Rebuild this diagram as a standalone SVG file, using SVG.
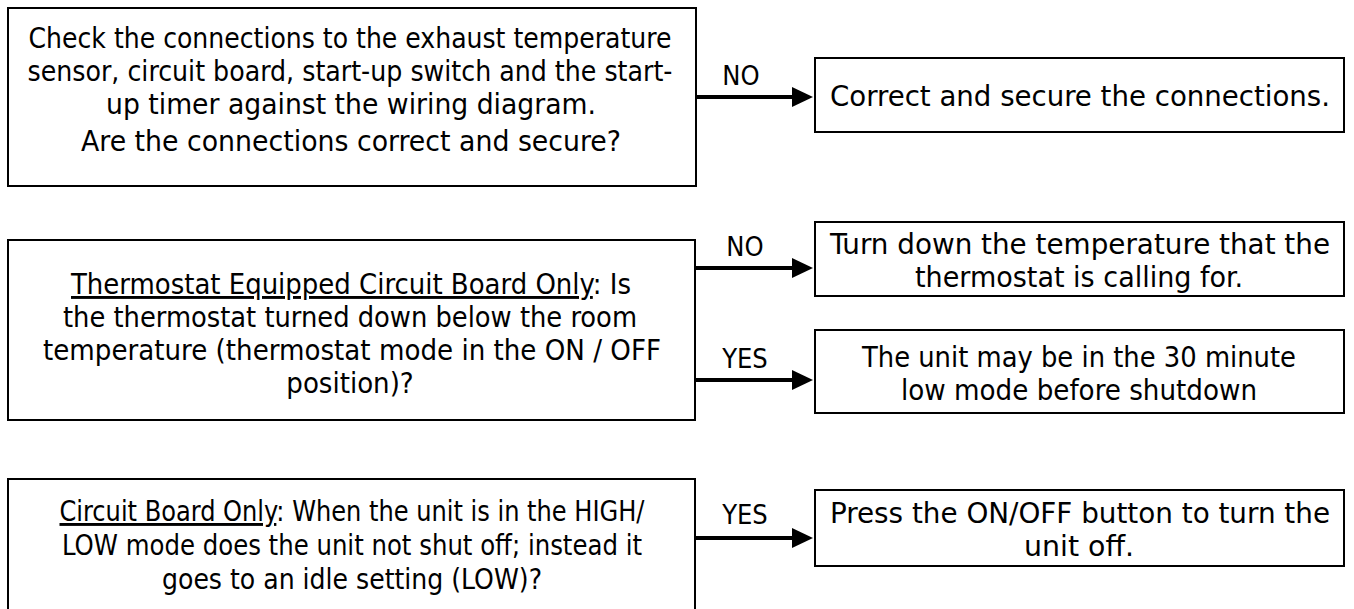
<svg xmlns="http://www.w3.org/2000/svg" width="1354" height="609" viewBox="0 0 1354 609">
<style>
.box{fill:#fff;stroke:#000;stroke-width:2}
.t{font-family:"DejaVu Sans Condensed","DejaVu Sans",sans-serif;font-stretch:condensed;font-size:29px;fill:#000;text-anchor:middle}
.l{font-family:"DejaVu Sans Condensed","DejaVu Sans",sans-serif;font-stretch:condensed;font-size:27px;fill:#000;text-anchor:middle}
.u{text-decoration:underline}
.c{stroke:#000;stroke-width:4;fill:none}
.h{fill:#000}
</style>
<rect width="1354" height="609" fill="#fff"/>
<g id="q1">
<rect class="box" x="8" y="8" width="688" height="178"/>
<text class="t" x="350" y="48" textLength="643" lengthAdjust="spacingAndGlyphs">Check the connections to the exhaust temperature</text>
<text class="t" x="350" y="81" textLength="645" lengthAdjust="spacingAndGlyphs">sensor, circuit board, start-up switch and the start-</text>
<text class="t" x="351" y="114" textLength="490" lengthAdjust="spacingAndGlyphs">up timer against the wiring diagram.</text>
<text class="t" x="351" y="151" textLength="540" lengthAdjust="spacingAndGlyphs">Are the connections correct and secure?</text>
</g>
<g id="a1">
<rect class="box" x="815" y="58" width="529" height="74"/>
<text class="t" x="1080" y="106" textLength="500" lengthAdjust="spacingAndGlyphs">Correct and secure the connections.</text>
</g>
<g id="q2">
<rect class="box" x="8" y="240" width="687" height="180"/>
<text class="t" x="351" y="294" textLength="560" lengthAdjust="spacingAndGlyphs"><tspan class="u">Thermostat Equipped Circuit Board Only</tspan>: Is</text>
<text class="t" x="350" y="327" textLength="574" lengthAdjust="spacingAndGlyphs">the thermostat turned down below the room</text>
<text class="t" x="352" y="360" textLength="618" lengthAdjust="spacingAndGlyphs">temperature (thermostat mode in the ON / OFF</text>
<text class="t" x="350" y="393">position)?</text>
</g>
<g id="a2">
<rect class="box" x="815" y="222" width="529" height="74"/>
<text class="t" x="1080" y="254" textLength="500" lengthAdjust="spacingAndGlyphs">Turn down the temperature that the</text>
<text class="t" x="1079" y="287" textLength="328" lengthAdjust="spacingAndGlyphs">thermostat is calling for.</text>
</g>
<g id="a3">
<rect class="box" x="815" y="330" width="529" height="83"/>
<text class="t" x="1079" y="367" textLength="434" lengthAdjust="spacingAndGlyphs">The unit may be in the 30 minute</text>
<text class="t" x="1079" y="400" textLength="356" lengthAdjust="spacingAndGlyphs">low mode before shutdown</text>
</g>
<g id="q3">
<rect class="box" x="8" y="479" width="687" height="140"/>
<text class="t" x="352" y="521" textLength="585" lengthAdjust="spacingAndGlyphs"><tspan class="u">Circuit Board Only</tspan>: When the unit is in the HIGH/</text>
<text class="t" x="352" y="555" textLength="580" lengthAdjust="spacingAndGlyphs">LOW mode does the unit not shut off; instead it</text>
<text class="t" x="352" y="589" textLength="380" lengthAdjust="spacingAndGlyphs">goes to an idle setting (LOW)?</text>
</g>
<g id="a4">
<rect class="box" x="815" y="490" width="529" height="76"/>
<text class="t" x="1080" y="523" textLength="500" lengthAdjust="spacingAndGlyphs">Press the ON/OFF button to turn the</text>
<text class="t" x="1079" y="556" textLength="110" lengthAdjust="spacingAndGlyphs">unit off.</text>
</g>
<g id="connectors">
<path class="c" d="M696 97H796"/><polygon class="h" points="792,87 813,97 792,107"/>
<path class="c" d="M695 268H796"/><polygon class="h" points="792,258 813,268 792,278"/>
<path class="c" d="M695 380H796"/><polygon class="h" points="792,370 813,380 792,390"/>
<path class="c" d="M695 538H796"/><polygon class="h" points="792,528 813,538 792,548"/>
<text class="l" x="741" y="85">NO</text>
<text class="l" x="745" y="256">NO</text>
<text class="l" x="745" y="368">YES</text>
<text class="l" x="745" y="524">YES</text>
</g>
</svg>
